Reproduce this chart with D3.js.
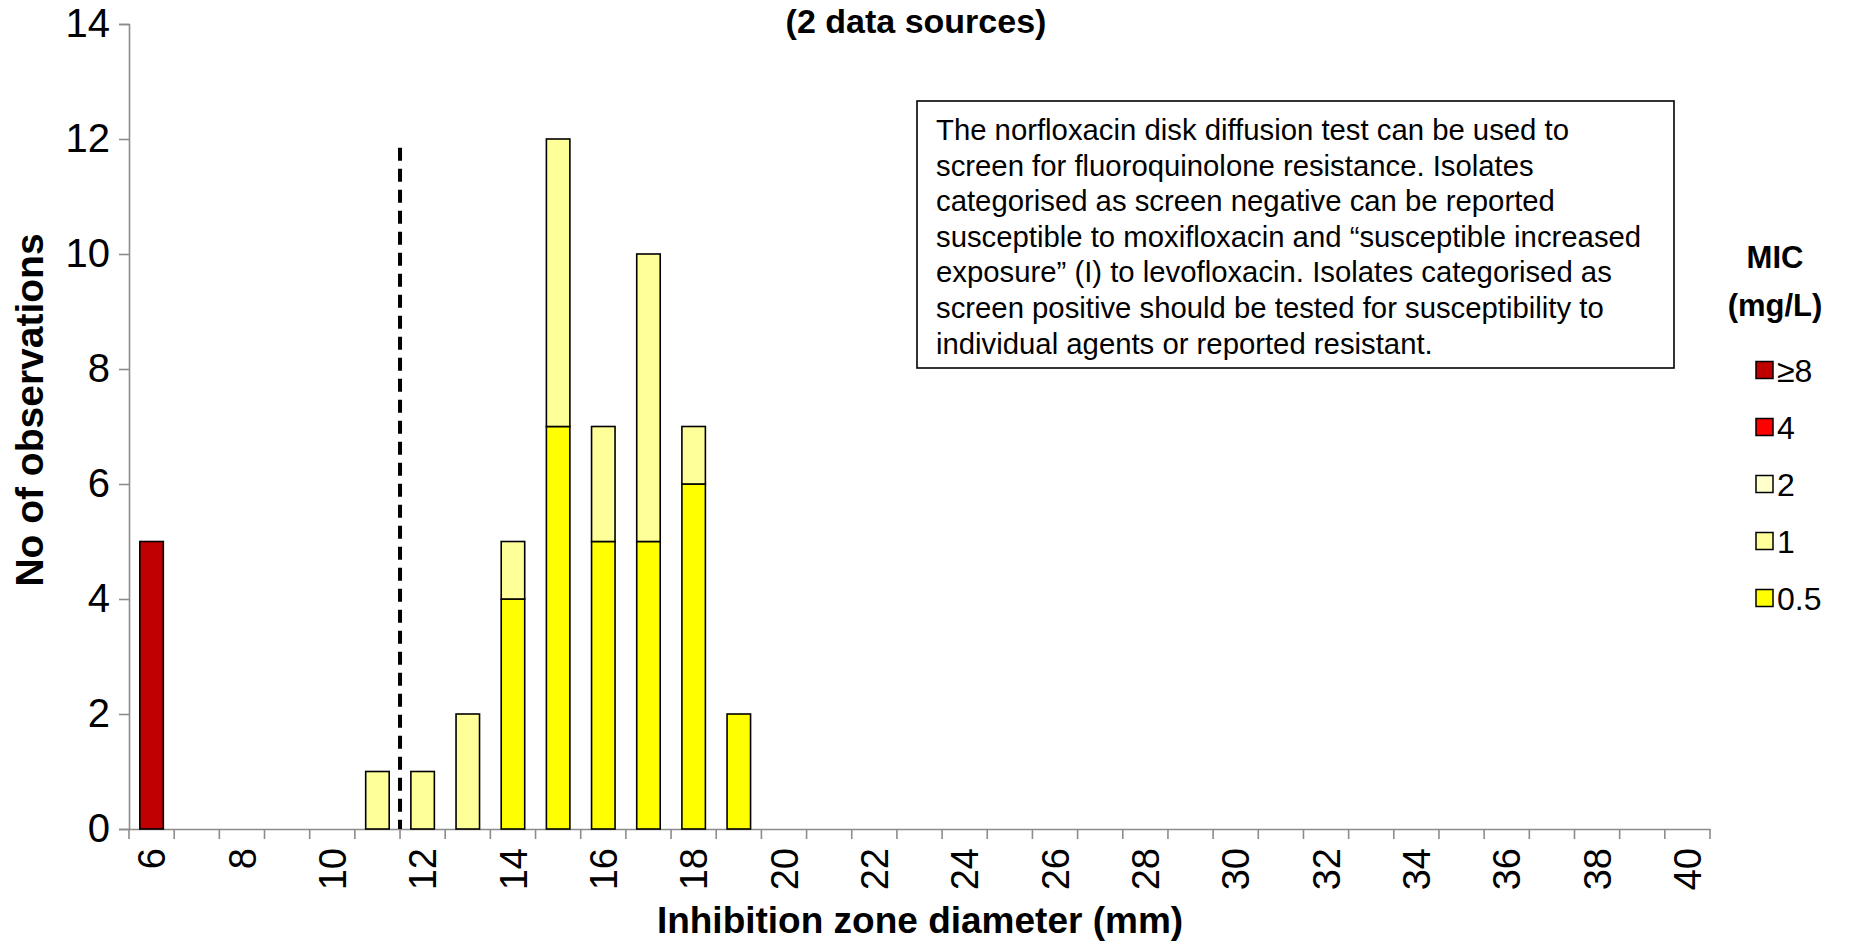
<!DOCTYPE html>
<html>
<head>
<meta charset="utf-8">
<script src="https://cdn.jsdelivr.net/npm/d3@7"></script>
<style>
  html, body { margin: 0; padding: 0; background: #ffffff; }
  svg { display: block; font-family: "Liberation Sans", Arial, sans-serif; }
</style>
</head>
<body>
<svg id="chart" width="1852" height="943"></svg>
<script>
// ---- data ----
const zones = d3.range(6, 41);                 // inhibition zone diameter categories (mm)
const tickLabels = d3.range(6, 41, 2);         // labelled categories
const micClasses = ["0.5", "1", "2", "4", "≥8"]; // stacking order, bottom to top
const legendOrder = ["≥8", "4", "2", "1", "0.5"];
const micColors = ["#FFFF00", "#FFFF99", "#FFFFCC", "#FF0000", "#C00000"];
const mic05 = { 14: 4, 15: 7, 16: 5, 17: 5, 18: 6, 19: 2 };
const mic1  = { 11: 1, 12: 1, 13: 2, 14: 1, 15: 5, 16: 2, 17: 5, 18: 1 };
const mic2  = {};
const mic4  = {};
const mic8  = { 6: 5 };
const yTicks = [0, 2, 4, 6, 8, 10, 12, 14];
const breakpoint = 11.5;      // screen breakpoint position (between 11 and 12 mm)
const breakpointTop = 11.85;  // height of the dashed line in observations
const titleText = "(2 data sources)";
const xTitle = "Inhibition zone diameter (mm)";
const yTitle = "No of observations";
const legendTitle = ["MIC", "(mg/L)"];
const noteLines = [
  "The norfloxacin disk diffusion test can be used to",
  "screen for fluoroquinolone resistance. Isolates",
  "categorised as screen negative can be reported",
  "susceptible to moxifloxacin and \u201csusceptible increased",
  "exposure\u201d (I) to levofloxacin. Isolates categorised as",
  "screen positive should be tested for susceptibility to",
  "individual agents or reported resistant."
];

// ---- layout ----
const FONT = "'Liberation Sans', Arial, sans-serif";
const svg = d3.select("#chart");
const plotLeft = 129, plotRight = 1710, plotTop = 24, plotBottom = 829;

const rows = zones.map(z => ({
  zone: z,
  "0.5": mic05[z] || 0, "1": mic1[z] || 0, "2": mic2[z] || 0,
  "4": mic4[z] || 0, "≥8": mic8[z] || 0
}));
const series = d3.stack().keys(micClasses)(rows);
const color = d3.scaleOrdinal().domain(micClasses).range(micColors);

const x = d3.scaleBand().domain(zones).range([plotLeft, plotRight])
  .paddingInner(0.48).paddingOuter(0.24);
const y = d3.scaleLinear().domain([0, 14]).range([plotBottom, plotTop]);
const step = x.step();

// y axis
const yAxis = svg.append("g").attr("transform", `translate(${plotLeft},0)`)
  .call(d3.axisLeft(y).tickValues(yTicks).tickSize(10).tickPadding(9).tickFormat(d3.format("d")));
yAxis.select(".domain").attr("stroke", "#8c8c8c").attr("stroke-width", 1.6);
yAxis.selectAll(".tick line").attr("stroke", "#8c8c8c").attr("stroke-width", 1.6);
yAxis.selectAll(".tick text").attr("font-size", 40).attr("fill", "#000")
  .attr("font-family", FONT);

// x axis baseline + boundary ticks
const xAxis = svg.append("g").attr("transform", `translate(0,${plotBottom})`)
  .call(d3.axisBottom(x).tickValues(tickLabels).tickSize(0).tickPadding(16).tickSizeOuter(0));
xAxis.select(".domain").attr("stroke", "#8c8c8c").attr("stroke-width", 1.6);
xAxis.selectAll(".tick text")
  .attr("font-size", 38).attr("fill", "#000")
  .attr("font-family", FONT)
  .attr("transform", "rotate(-90)")
  .attr("text-anchor", "end")
  .attr("dy", "0.36em")
  .attr("x", -19).attr("y", 0);
const boundaries = zones.map(z => x(z) - (step - x.bandwidth()) / 2).concat([plotRight]);
svg.append("g").selectAll("line").data(boundaries).join("line")
  .attr("x1", d => d).attr("x2", d => d)
  .attr("y1", plotBottom).attr("y2", plotBottom + 10)
  .attr("stroke", "#8c8c8c").attr("stroke-width", 1.6);

// bars
svg.append("g").selectAll("g").data(series).join("g")
  .attr("fill", d => color(d.key))
  .selectAll("rect").data(d => d.filter(s => s[1] - s[0] > 0)).join("rect")
  .attr("x", d => x(d.data.zone))
  .attr("width", x.bandwidth())
  .attr("y", d => y(d[1]))
  .attr("height", d => y(d[0]) - y(d[1]))
  .attr("stroke", "#000").attr("stroke-width", 1.6);

// dashed breakpoint line
const center = z => x(z) + x.bandwidth() / 2;
const bx = center(Math.floor(breakpoint)) + (breakpoint - Math.floor(breakpoint)) * step;
svg.append("line")
  .attr("x1", bx).attr("x2", bx)
  .attr("y1", y(breakpointTop)).attr("y2", y(0))
  .attr("stroke", "#000").attr("stroke-width", 4)
  .attr("stroke-dasharray", "13,8");

// title
svg.append("text").attr("x", 916).attr("y", 33)
  .attr("text-anchor", "middle").attr("font-size", 34).attr("font-weight", "bold")
  .text(titleText);

// axis titles
svg.append("text").attr("x", 920).attr("y", 933)
  .attr("text-anchor", "middle").attr("font-size", 37).attr("font-weight", "bold")
  .text(xTitle);
svg.append("text").attr("transform", "translate(43,410) rotate(-90)")
  .attr("text-anchor", "middle").attr("font-size", 39).attr("font-weight", "bold")
  .text(yTitle);

// note box
svg.append("rect").attr("x", 917).attr("y", 101).attr("width", 757).attr("height", 267)
  .attr("fill", "#fff").attr("stroke", "#000").attr("stroke-width", 1.6);
svg.append("g").selectAll("text").data(noteLines).join("text")
  .attr("x", 936).attr("y", (d, i) => 140 + i * 35.6)
  .attr("font-size", 29.3).attr("fill", "#000")
  .text(d => d);

// legend
const lg = svg.append("g");
lg.selectAll("text.lt").data(legendTitle).join("text").attr("class", "lt")
  .attr("x", 1775).attr("y", (d, i) => 268 + i * 48).attr("text-anchor", "middle")
  .attr("font-size", 31).attr("font-weight", "bold").text(d => d);
const items = lg.selectAll("g.item").data(legendOrder).join("g")
  .attr("class", "item")
  .attr("transform", (d, i) => `translate(1756,${370 + i * 57})`);
items.append("rect").attr("x", 0).attr("y", -8.5).attr("width", 17).attr("height", 17)
  .attr("fill", d => color(d)).attr("stroke", "#000").attr("stroke-width", 1.5);
items.append("text").attr("x", 21).attr("y", 0).attr("dy", "0.36em")
  .attr("font-size", 32).text(d => d);
</script>
</body>
</html>
